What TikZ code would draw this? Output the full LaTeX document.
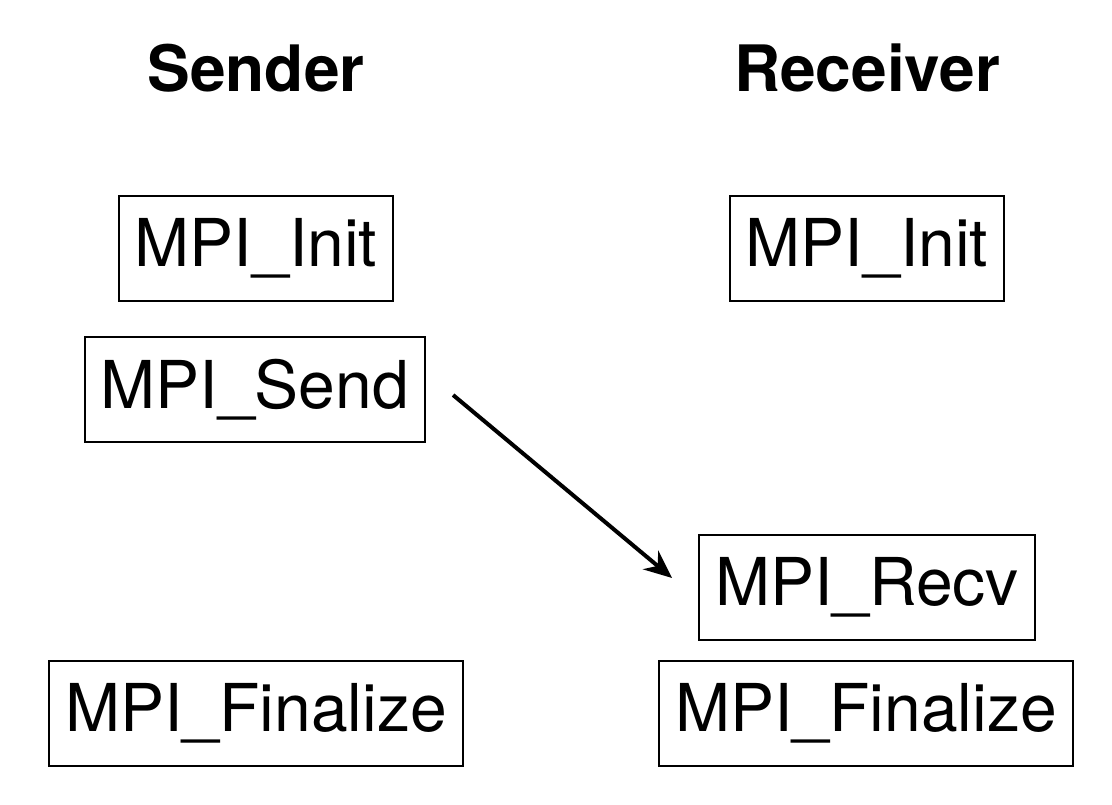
\documentclass[tikz,border=0pt]{standalone}
\usepackage{fontspec}
\setmainfont{TeX Gyre Heros}
\usetikzlibrary{arrows.meta}
\usetikzlibrary{calc}
\usetikzlibrary{positioning}

\begin{document}
\begin{tikzpicture}[
		x=0.5pt,y=-0.5pt,
		>={Stealth[length=14pt,width=12pt]},
		call/.style={draw,line width=1pt,inner xsep=8pt,minimum height=52.5pt,
			font=\fontsize{33}{38}\selectfont},
		title/.style={font=\fontsize{32}{38}\selectfont\bfseries}
	]
	\useasboundingbox (0,0) rectangle (1112,804);

	% sender side
	\node [title] (sender) at (256,68) {Sender};
	\node [call] (s-init) at (256,248.5) {MPI\_Init};
	\node [call] (s-send) at (255,389.5) {MPI\_Send};
	\node [call] (s-fin) at (256,713.5) {MPI\_Finalize};

	% receiver side
	\node [title] (receiver) at (867,68) {Receiver};
	\node [call] (r-init) at (867,248.5) {MPI\_Init};
	\node [call] (r-recv) at (867,587.5) {MPI\_Recv};
	\node [call] (r-fin) at (866,713.5) {MPI\_Finalize};

	\draw [->,line width=2pt] ([xshift=13.5pt,yshift=-2.75pt]s-send.east) -- ([xshift=-13pt,yshift=4.75pt]r-recv.west);
\end{tikzpicture}
\end{document}
